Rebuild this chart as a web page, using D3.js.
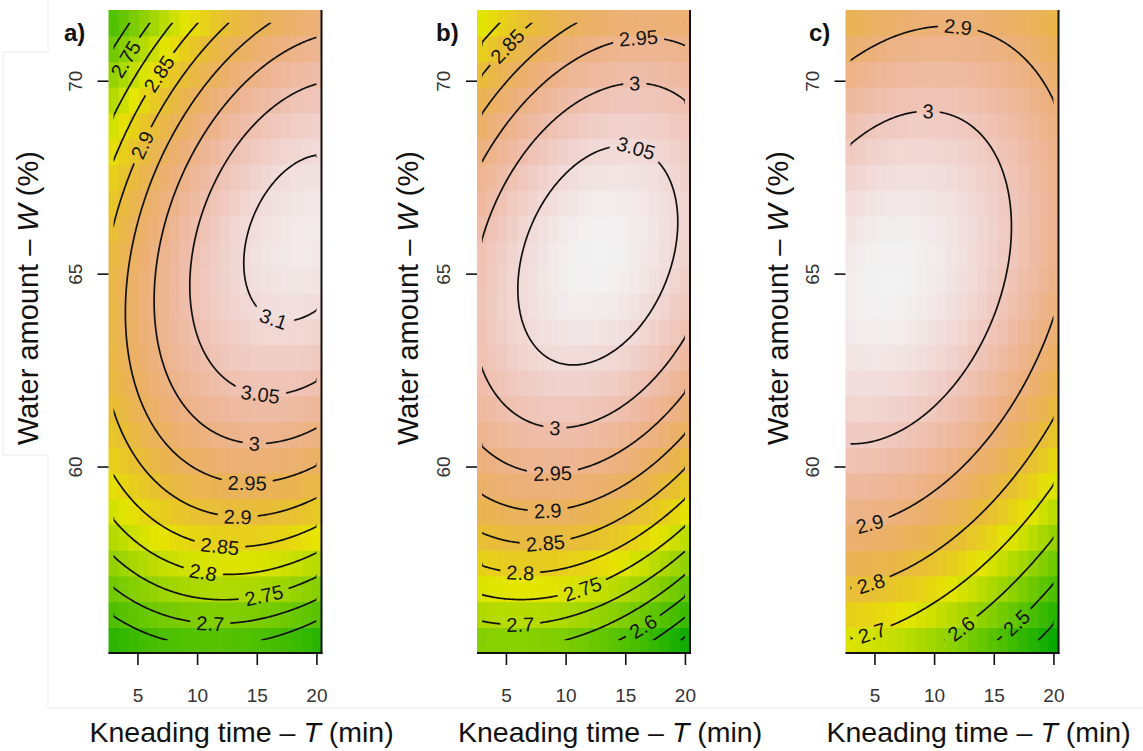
<!DOCTYPE html>
<html>
<head>
<meta charset="utf-8">
<script src="https://cdn.jsdelivr.net/npm/d3@7"></script>
<style>
  body { margin: 0; background: #fff; }
  svg { display: block; font-family: "Liberation Sans", Arial, sans-serif; }
</style>
</head>
<body>
<svg id="chart" width="1143" height="751"></svg>
<script>
// ---- data ---------------------------------------------------------------
var panelTags = ["a)", "b)", "c)"];

// fitted 2nd order surface: shared quadratic terms, own optimum per panel
var quadTT = 0.00083, quadWW = 0.00463, quadTW = -0.0006;
var peakT = [19.0, 12.7, 6.3];      // kneading time at the optimum (min)
var peakW = [65.93, 65.47, 64.9];   // water amount at the optimum (%)
var peakZ = [3.1195, 3.0838, 3.078];

// colour range (zlim) of each image
var zlimA = [2.53, 3.13], zlimB = [2.46, 3.084], zlimC = [2.34, 3.078];

// contour levels drawn in each panel
var levelsA = [2.55, 2.6, 2.65, 2.7, 2.75, 2.8, 2.85, 2.9, 2.95, 3, 3.05, 3.1];
var levelsB = [2.45, 2.5, 2.55, 2.6, 2.65, 2.7, 2.75, 2.8, 2.85, 2.9, 2.95, 3, 3.05];
var levelsC = [2.3, 2.4, 2.5, 2.6, 2.7, 2.8, 2.9, 3];

// where the contour labels sit: [level, T, W]
var labelsA = [[2.75, 4.18, 70.54], [2.85, 7.1, 70.1], [2.9, 5.86, 68.3], [3.1, 16.6, 64.0],
               [3.05, 15.4, 62.05], [3, 14.85, 60.6], [2.95, 14.2, 59.66], [2.9, 13.4, 58.76],
               [2.85, 11.9, 58.03], [2.8, 10.5, 57.28], [2.75, 15.5, 56.76], [2.7, 11.1, 55.98]];
var labelsB = [[2.85, 5.34, 70.85], [2.95, 16.1, 70.98], [3, 15.8, 69.9], [3.05, 15.6, 67.95],
               [3, 9.1, 60.88], [2.95, 8.94, 59.82], [2.9, 8.5, 58.8], [2.85, 8.27, 57.98],
               [2.8, 6.17, 57.15], [2.75, 11.45, 56.76], [2.7, 6.17, 55.78], [2.6, 16.5, 55.85]];
var labelsC = [[2.9, 11.96, 71.27], [3, 9.5, 69.12], [2.9, 4.5, 58.58], [2.8, 4.66, 57.0],
               [2.7, 4.8, 55.73], [2.6, 12.0, 55.9], [2.5, 16.57, 56.04]];

var timeTicks = [5, 10, 15, 20];
var waterTicks = [60, 65, 70];

// sample grid of the image: T 3..20 (21 cols), W 55.5..71.5 (25 rows)
var gridT = [3, 20], nCol = 21;
var gridW = [55.5, 71.5], nRow = 25;

var levels = [levelsA, levelsB, levelsC];
var labels = [labelsA, labelsB, labelsC];
var zlims = [zlimA, zlimB, zlimC];

// ---- layout -------------------------------------------------------------
var svg = d3.select("#chart");
var panelLeft = [108.5, 477, 845.5];
var panelWidth = 213, plotTop = 10, plotBottom = 653;
var tagX = [64, 436, 809];
var yTitleX = [38, 418, 788];

var stepT = (gridT[1] - gridT[0]) / (nCol - 1);
var stepW = (gridW[1] - gridW[0]) / (nRow - 1);

var y = d3.scaleLinear()
    .domain([gridW[0] - stepW / 2, gridW[1] + stepW / 2])
    .range([plotBottom, plotTop]);

function surface(p, t, w) {
    var dt = t - peakT[p], dw = w - peakW[p];
    return peakZ[p] - (quadTT * dt * dt + 2 * quadTW * dt * dw + quadWW * dw * dw);
}

// R terrain.colors as a continuous ramp
function hsv(h, s, v) {
    var c = v * s, hp = h / 60, x = c * (1 - Math.abs(hp % 2 - 1)), r, g, b;
    if (hp < 1) { r = c; g = x; b = 0; }
    else if (hp < 2) { r = x; g = c; b = 0; }
    else { r = 0; g = c; b = x; }
    var m = v - c;
    return d3.rgb((r + m) * 255, (g + m) * 255, (b + m) * 255);
}
function terrain(t) {
    t = Math.max(0, Math.min(1, t));
    if (t < 0.5) { var u = t / 0.5; return hsv(120 - 60 * u, 1, 0.65 + 0.25 * u); }
    var u2 = (t - 0.5) / 0.5;
    return hsv(60 - 60 * u2, 1 - u2, 0.9 + 0.05 * u2);
}

var fmt = function (v) { return String(+v.toFixed(2)); };

// faint frame left over from the page the figure was cut from
svg.append("path")
    .attr("d", "M48,0V52H3V455H48V708H1143")
    .attr("fill", "none").attr("stroke", "#ececec").attr("stroke-width", 1);

panelTags.forEach(function (tag, p) {
    var L = panelLeft[p], R = L + panelWidth;
    var x = d3.scaleLinear()
        .domain([gridT[0] - stepT / 2, gridT[1] + stepT / 2])
        .range([L, R]);
    var g = svg.append("g");

    // image cells
    var cells = [];
    for (var i = 0; i < nCol; i++) {
        for (var j = 0; j < nRow; j++) {
            var t = gridT[0] + i * stepT, w = gridW[0] + j * stepW;
            cells.push({ t: t, w: w, z: surface(p, t, w) });
        }
    }
    var color = d3.scaleSequential(terrain).domain(zlims[p]);
    g.append("g").selectAll("rect").data(cells).join("rect")
        .attr("x", function (d) { return x(d.t - stepT / 2); })
        .attr("y", function (d) { return y(d.w + stepW / 2); })
        .attr("width", function (d) { return x(d.t + stepT / 2) - x(d.t - stepT / 2) + 0.6; })
        .attr("height", function (d) { return y(d.w - stepW / 2) - y(d.w + stepW / 2) + 0.6; })
        .attr("fill", function (d) { return color(d.z); });

    // contour lines on a fine grid over the same sample extent
    var nx = 171, ny = 161;
    var fx = (gridT[1] - gridT[0]) / (nx - 1), fy = (gridW[1] - gridW[0]) / (ny - 1);
    var values = new Array(nx * ny);
    for (var jj = 0; jj < ny; jj++) {
        for (var ii = 0; ii < nx; ii++) {
            values[jj * nx + ii] = surface(p, gridT[0] + ii * fx, gridW[1] - jj * fy);
        }
    }
    var contours = d3.contours().size([nx, ny]).thresholds(levels[p])(values);

    function isBorder(a, b) {
        return (a[0] <= 0 && b[0] <= 0) || (a[0] >= nx && b[0] >= nx) ||
               (a[1] <= 0 && b[1] <= 0) || (a[1] >= ny && b[1] >= ny);
    }
    function toPx(pt) {
        return [x(gridT[0] + (pt[0] - 0.5) * fx), y(gridW[1] - (pt[1] - 0.5) * fy)];
    }
    var lines = [];   // {level, pts}
    contours.forEach(function (c) {
        c.coordinates.forEach(function (poly) {
            poly.forEach(function (ring) {
                var pts = ring.slice(0, -1), n = pts.length, start = -1;
                for (var k = 0; k < n; k++) if (isBorder(pts[k], pts[(k + 1) % n])) { start = k; break; }
                if (start < 0) { lines.push({ level: c.value, pts: ring.map(toPx) }); return; }
                var cur = [];
                for (var s = 1; s <= n; s++) {
                    var a = (start + s) % n, b = (a + 1) % n;
                    if (isBorder(pts[a], pts[b])) {
                        if (cur.length > 1) lines.push({ level: c.value, pts: cur.map(toPx) });
                        cur = [];
                    } else {
                        if (!cur.length) cur.push(pts[a]);
                        cur.push(pts[b]);
                    }
                }
                if (cur.length > 1) lines.push({ level: c.value, pts: cur.map(toPx) });
            });
        });
    });

    var clipId = "clip" + p, maskId = "mask" + p;
    var defs = svg.append("defs");
    defs.append("clipPath").attr("id", clipId).append("rect")
        .attr("x", x(gridT[0])).attr("y", y(gridW[1]))
        .attr("width", x(gridT[1]) - x(gridT[0])).attr("height", y(gridW[0]) - y(gridW[1]));
    var mask = defs.append("mask").attr("id", maskId)
        .attr("maskUnits", "userSpaceOnUse")
        .attr("x", 0).attr("y", 0).attr("width", 1143).attr("height", 751);
    mask.append("rect").attr("width", 1143).attr("height", 751).attr("fill", "#fff");

    g.append("g").attr("clip-path", "url(#" + clipId + ")")
        .append("g").attr("mask", "url(#" + maskId + ")")
        .selectAll("path").data(lines).join("path")
        .attr("d", function (d) { return d3.line()(d.pts); })
        .attr("fill", "none").attr("stroke", "#111").attr("stroke-width", 1.7)
        .attr("stroke-linejoin", "round");

    // contour labels, placed on the nearest point of their line
    var labG = g.append("g");
    labels[p].forEach(function (lab) {
        var ax = x(lab[1]), ay = y(lab[2]);
        var best = null, bd = Infinity;
        lines.forEach(function (ln) {
            if (Math.abs(ln.level - lab[0]) > 1e-6) return;
            ln.pts.forEach(function (q, k) {
                var d = (q[0] - ax) * (q[0] - ax) + (q[1] - ay) * (q[1] - ay);
                if (d < bd) { bd = d; best = { pts: ln.pts, k: k }; }
            });
        });
        if (!best) return;
        var P = best.pts, c0 = P[best.k];
        function along(dir) {
            var k = best.k, acc = 0;
            while (k + dir >= 0 && k + dir < P.length && acc < 10) {
                acc += Math.hypot(P[k + dir][0] - P[k][0], P[k + dir][1] - P[k][1]);
                k += dir;
            }
            return P[k];
        }
        var pa = along(-1), pb = along(1);
        var ang = Math.atan2(pb[1] - pa[1], pb[0] - pa[0]) * 180 / Math.PI;
        if (ang > 90) ang -= 180;
        if (ang <= -90) ang += 180;
        var tr = "translate(" + c0[0] + "," + c0[1] + ") rotate(" + ang + ")";
        var txt = labG.append("text").attr("transform", tr)
            .attr("text-anchor", "middle").attr("dy", "0.36em")
            .attr("font-size", 20).attr("fill", "#151515")
            .text(fmt(lab[0]));
        var tw = txt.node().getComputedTextLength();
        mask.append("rect").attr("transform", tr)
            .attr("x", -tw / 2 - 6).attr("y", -8).attr("width", tw + 12).attr("height", 16)
            .attr("fill", "#000");
    });

    // frame: right and bottom
    g.append("line").attr("x1", R).attr("x2", R).attr("y1", plotTop).attr("y2", plotBottom + 1)
        .attr("stroke", "#111").attr("stroke-width", 2);
    g.append("line").attr("x1", L).attr("x2", R + 1).attr("y1", plotBottom).attr("y2", plotBottom)
        .attr("stroke", "#111").attr("stroke-width", 2);

    // axes
    var ax = g.append("g").attr("transform", "translate(0," + plotBottom + ")")
        .call(d3.axisBottom(x).tickValues(timeTicks).tickSize(12).tickFormat(d3.format("d")));
    ax.select(".domain").remove();
    ax.selectAll("line").attr("stroke", "#111").attr("stroke-width", 1.6);
    ax.selectAll("text").attr("y", 49).attr("dy", 0)
        .attr("font-size", 19).attr("fill", "#333").attr("font-family", null);

    var ay = g.append("g").attr("transform", "translate(" + L + ",0)")
        .call(d3.axisLeft(y).tickValues(waterTicks).tickSize(11).tickFormat(d3.format("d")));
    ay.select(".domain").remove();
    ay.selectAll("line").attr("stroke", "#111").attr("stroke-width", 1.6);
    ay.selectAll("text").attr("transform", "rotate(-90)")
        .attr("x", 0).attr("y", -27).attr("dy", 0)
        .attr("text-anchor", "middle")
        .attr("font-size", 19).attr("fill", "#333").attr("font-family", null);

    // titles
    var xt = g.append("text").attr("x", L - 19).attr("y", 742)
        .attr("font-size", 28.5).attr("fill", "#111");
    xt.append("tspan").text("Kneading time \u2013 ");
    xt.append("tspan").attr("font-style", "italic").text("T");
    xt.append("tspan").text(" (min)");

    var yt = g.append("text")
        .attr("transform", "translate(" + yTitleX[p] + ",298) rotate(-90)")
        .attr("text-anchor", "middle").attr("font-size", 29).attr("fill", "#111");
    yt.append("tspan").text("Water amount \u2013 ");
    yt.append("tspan").attr("font-style", "italic").text("W");
    yt.append("tspan").text(" (%)");

    g.append("text").attr("x", tagX[p]).attr("y", 41)
        .attr("font-size", 24).attr("font-weight", "bold").attr("fill", "#111")
        .text(tag);
});
</script>
</body>
</html>
